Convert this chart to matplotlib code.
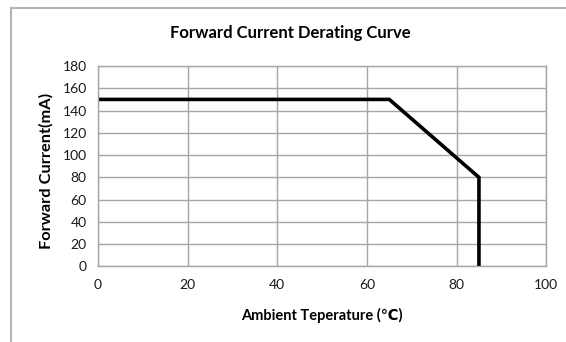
import matplotlib
matplotlib.use("Agg")
import matplotlib.pyplot as plt
from matplotlib.lines import Line2D

# derating curve points
temp = [0, 65, 85, 85]
current = [150, 150, 80, 0]

x_ticks = [0, 20, 40, 60, 80, 100]
y_ticks = list(range(0, 181, 20))

plt.rcParams['font.family'] = ['Lato', 'DejaVu Sans']

fig = plt.figure(figsize=(5.66, 3.42), dpi=100)
ax = fig.add_axes([0.173, 0.221, 0.792, 0.586])

ax.plot(temp, current, color='black', lw=2.6, solid_joinstyle='miter')

ax.set_xlim(0, 100)
ax.set_ylim(0, 180)
ax.set_xticks(x_ticks)
ax.set_yticks(y_ticks)
ax.tick_params(length=0, labelsize=10, pad=9, labelcolor='#1a1a1a')
ax.tick_params(axis='y', pad=8)
ax.grid(True, color='#a6a6a6', lw=1)
ax.set_axisbelow(True)
for s in ax.spines.values():
    s.set_color('#a6a6a6')
    s.set_linewidth(1)

fig.text(0.513, 0.903, 'Forward Current Derating Curve', ha='center', va='center',
         fontsize=12, fontweight='bold')
fig.text(0.569, 0.077, 'Ambient Teperature (℃)', ha='center', va='center',
         fontsize=10.5, fontweight='bold')
fig.text(0.082, 0.499, 'Forward Current(mA)', ha='center', va='center',
         rotation=90, fontsize=11.8, fontweight='bold')

# outer chart frame (only top and left edges visible)
fig.add_artist(Line2D([11 / 566, 11 / 566], [0, 1 - 8 / 342], transform=fig.transFigure,
                      color='#b5b5b5', lw=1.5))
fig.add_artist(Line2D([11 / 566, 1], [1 - 8 / 342, 1 - 8 / 342], transform=fig.transFigure,
                      color='#b5b5b5', lw=1.5))

fig.savefig('out.png', dpi=100)
